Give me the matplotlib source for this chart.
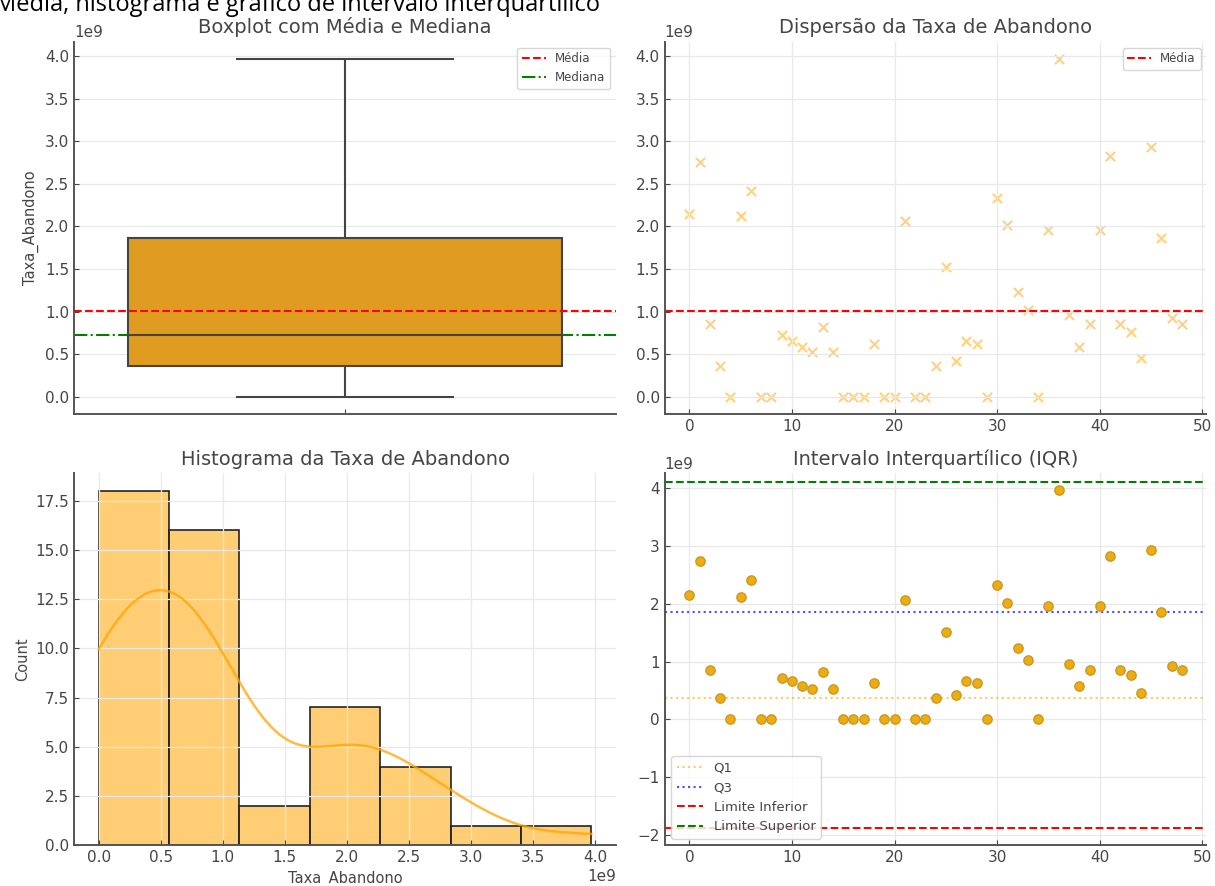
import numpy as np
import pandas as pd
import matplotlib
matplotlib.use("Agg")
import matplotlib.pyplot as plt
import seaborn as sns

# Taxa de abandono por registro (valores em 1e9)
taxa_abandono = [2.15, 2.75, 0.85, 0.36, 0.00, 2.12, 2.42, 0.00, 0.00, 0.72,
                 0.66, 0.58, 0.52, 0.82, 0.52, 0.00, 0.00, 0.00, 0.62, 0.00,
                 0.00, 2.06, 0.00, 0.00, 0.36, 1.52, 0.42, 0.66, 0.62, 0.00,
                 2.33, 2.02, 1.23, 1.02, 0.00, 1.96, 3.97, 0.96, 0.58, 0.86,
                 1.96, 2.83, 0.86, 0.76, 0.46, 2.93, 1.86, 0.92, 0.86]
hist_bins = 7

df = pd.DataFrame({"Taxa_Abandono": np.array(taxa_abandono) * 1e9})
valores = df["Taxa_Abandono"]

media = valores.mean()
mediana = valores.median()
q1 = valores.quantile(0.25)
q3 = valores.quantile(0.75)
iqr = q3 - q1
limite_inferior = q1 - 1.5 * iqr
limite_superior = q3 + 1.5 * iqr

txt = "#454545"
plt.rcParams.update({
    "axes.spines.top": False,
    "axes.spines.right": False,
    "axes.edgecolor": "#555555",
    "axes.linewidth": 1.4,
    "axes.grid": True,
    "grid.color": "#e8e8e8",
    "grid.linewidth": 0.9,
    "xtick.direction": "in",
    "ytick.direction": "in",
    "xtick.color": txt,
    "ytick.color": txt,
    "xtick.labelsize": 11,
    "ytick.labelsize": 11,
    "text.color": txt,
    "axes.labelcolor": txt,
    "axes.titlesize": 14,
    "axes.titlecolor": txt,
    "axes.labelsize": 10.5,
    "legend.fontsize": 8.5,
})

fig, axes = plt.subplots(2, 2, figsize=(12.15, 8.86), dpi=100)
fig.subplots_adjust(left=0.061, right=0.993, bottom=0.046, top=0.953,
                    wspace=0.09, hspace=0.16)

# trecho do documento cortado no topo
fig.text(-0.004, 1 - 11 / 886, "Média, histograma e gráfico de intervalo interquartílico",
         fontsize=17, family="Open Sans", color="black", va="baseline")

# Boxplot
ax = axes[0, 0]
sns.boxplot(y=valores, ax=ax, color="orange", linecolor="#444444", linewidth=1.5)
ax.axhline(media, color="red", linestyle="--", linewidth=1.5, label="Média", zorder=5)
ax.axhline(mediana, color="green", linestyle="-.", linewidth=1.5, label="Mediana", zorder=1)
ax.set_title("Boxplot com Média e Mediana")
ax.legend(loc="upper right")

# Dispersão
ax = axes[0, 1]
ax.scatter(range(len(valores)), valores, marker="x", color="orange", alpha=0.5, s=45)
ax.axhline(media, color="red", linestyle="--", linewidth=1.5, label="Média")
ax.set_title("Dispersão da Taxa de Abandono")
ax.legend(loc="upper right")

# Histograma
ax = axes[1, 0]
sns.histplot(valores, bins=hist_bins, kde=True, color="orange", alpha=0.55,
             edgecolor="#222222", linewidth=1.2, ax=ax,
             line_kws={"linewidth": 1.8, "alpha": 0.75})
ax.set_title("Histograma da Taxa de Abandono")

# IQR
ax = axes[1, 1]
ax.scatter(range(len(valores)), valores, color="#efab12", edgecolor="#c99a20", s=45, zorder=3)
ax.axhline(q1, color="orange", linestyle=":", linewidth=1.5, alpha=0.6, label="Q1")
ax.axhline(q3, color="blue", linestyle=":", linewidth=1.5, alpha=0.7, label="Q3")
ax.axhline(limite_inferior, color="red", linestyle="--", linewidth=1.5, label="Limite Inferior")
ax.axhline(limite_superior, color="green", linestyle="--", linewidth=1.5, label="Limite Superior")
ax.set_title("Intervalo Interquartílico (IQR)")
ax.legend(loc="lower left", fontsize=9.5)

plt.savefig("out.png", dpi=100)
